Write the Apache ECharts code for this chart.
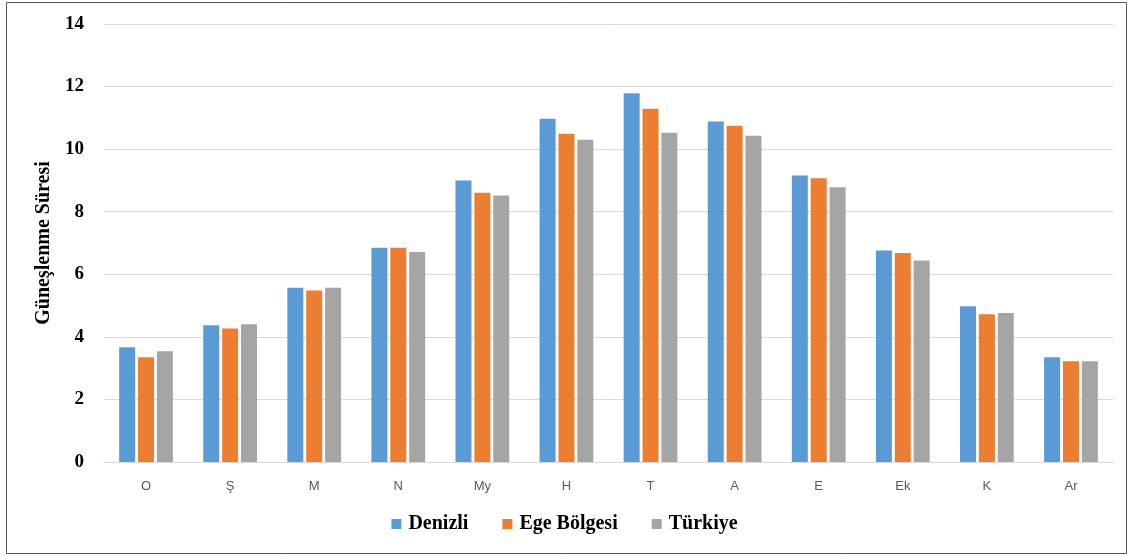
<!DOCTYPE html>
<html>
<head>
<meta charset="utf-8">
<script src="https://cdn.jsdelivr.net/npm/echarts@6/dist/echarts.min.js"></script>
<style>
html,body{margin:0;padding:0;background:#fff;}
#chart{width:1129px;height:556px;}
</style>
</head>
<body>
<div id="chart"></div>
<script>
// Monthly sunshine duration (hours) by region
const months = ['O', 'Ş', 'M', 'N', 'My', 'H', 'T', 'A', 'E', 'Ek', 'K', 'Ar'];
const denizli = [3.67, 4.37, 5.57, 6.85, 9.0, 10.97, 11.79, 10.88, 9.16, 6.76, 4.98, 3.35];
const egeBolgesi = [3.35, 4.27, 5.48, 6.85, 8.61, 10.49, 11.29, 10.75, 9.07, 6.68, 4.72, 3.22];
const turkiye = [3.54, 4.40, 5.57, 6.71, 8.52, 10.30, 10.52, 10.43, 8.78, 6.44, 4.76, 3.22];
const yTicks = { min: 0, max: 14, interval: 2 };

const serifBold = { fontFamily: '"Liberation Serif", "DejaVu Serif", serif', fontWeight: 'bold', color: '#000' };

const chart = echarts.init(document.getElementById('chart'), null, { renderer: 'canvas' });

function bar(name, data, color) {
  return {
    name, type: 'bar', data,
    barWidth: 16, barGap: '18%',
    itemStyle: { color },
    emphasis: { disabled: true }
  };
}

chart.setOption({
  animation: false,
  backgroundColor: '#fff',
  graphic: [{
    type: 'rect', silent: true, z: -1,
    shape: { x: 6.5, y: 2.5, width: 1120, height: 551 },
    style: { fill: 'none', stroke: '#555', lineWidth: 1 }
  }],
  grid: { left: 104, right: 16, top: 24, bottom: 94, containLabel: false },
  legend: {
    bottom: 17, left: 'center',
    itemWidth: 10, itemHeight: 10, itemGap: 34,
    icon: 'rect',
    textStyle: Object.assign({ fontSize: 20, padding: [0, 0, 0, 2] }, serifBold),
    data: ['Denizli', 'Ege Bölgesi', 'Türkiye']
  },
  xAxis: {
    type: 'category', data: months,
    axisLine: { lineStyle: { color: '#d9d9d9', width: 1 } },
    axisTick: { show: false },
    axisLabel: { color: '#595959', fontSize: 13, fontFamily: '"Liberation Sans", Arial, sans-serif', margin: 18 }
  },
  yAxis: {
    type: 'value', min: yTicks.min, max: yTicks.max, interval: yTicks.interval,
    name: 'Güneşlenme Süresi', nameLocation: 'middle', nameGap: 47,
    nameTextStyle: Object.assign({ fontSize: 20 }, serifBold),
    axisLine: { show: false }, axisTick: { show: false },
    axisLabel: Object.assign({ fontSize: 19, margin: 20 }, serifBold),
    splitLine: { lineStyle: { color: '#d9d9d9', width: 1 } }
  },
  series: [
    bar('Denizli', denizli, '#5b9bd5'),
    bar('Ege Bölgesi', egeBolgesi, '#ed7d31'),
    bar('Türkiye', turkiye, '#a5a5a5')
  ]
});
</script>
</body>
</html>
